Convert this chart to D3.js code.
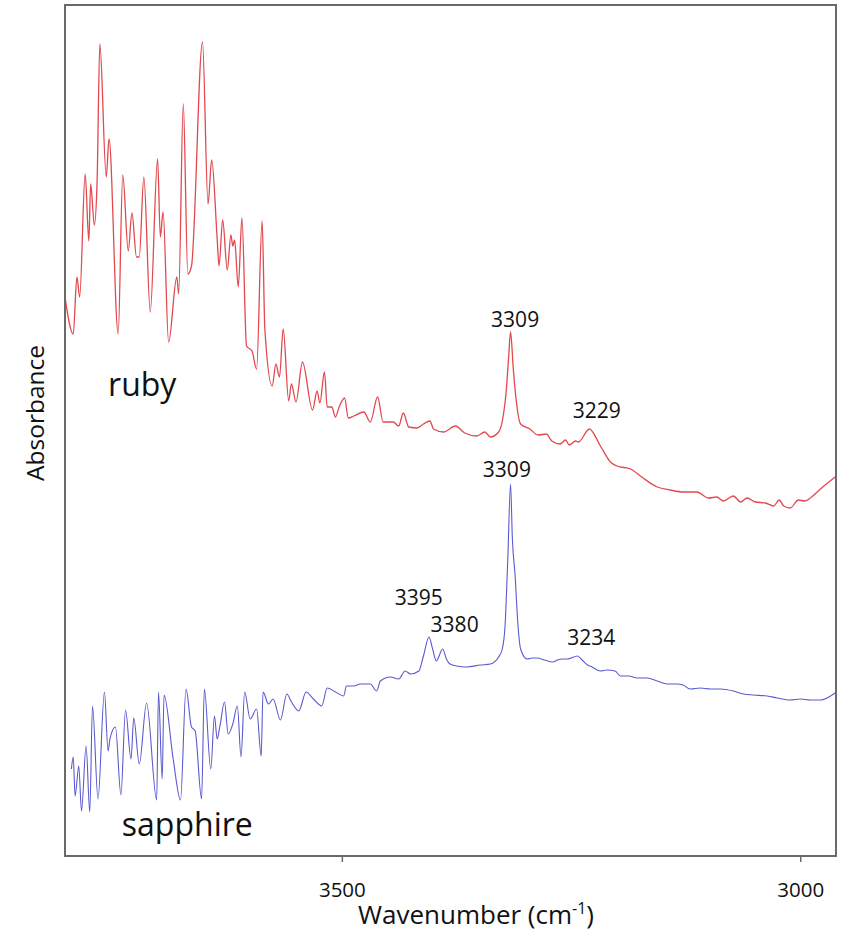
<!DOCTYPE html>
<html>
<head>
<meta charset="utf-8">
<script src="https://cdn.jsdelivr.net/npm/d3@7"></script>
<style>
  html, body { margin: 0; padding: 0; background: #fff; }
  svg { display: block; }
  text { font-family: "Open Sans", "Noto Sans", sans-serif; fill: #111; }
</style>
</head>
<body>
<svg id="chart" width="841" height="937"></svg>
<script>
// ---- Data (wavenumber in cm^-1, absorbance in arbitrary units) ----
const rubyWavenumber = [3802,3793,3789,3786,3780,3776,3774,3770,3767,3764,3757,3754,3744,3739,3733,3729,3724,3721,3716,3709,3701,3698,3695,3689,3680,3678,3673,3668,3664,3652,3646,3642,3636,3634,3630,3625,3621,3619,3617,3613,3609,3604,3598,3593,3587,3584,3576,3572,3568,3564,3558,3555,3550,3543,3532,3527,3524,3519,3516,3511,3507,3503,3497,3493,3487,3476,3469,3461,3455,3444,3438,3433,3427,3418,3411,3404,3400,3389,3376,3366,3353,3344,3338,3329,3324,3321,3318,3316,3313,3310,3305,3295,3286,3277,3271,3262,3256,3252,3245,3242,3230,3218,3207,3200,3185,3173,3156,3142,3127,3113,3100,3091,3084,3073,3065,3058,3049,3038,3029,3023,3018,3011,3002,2995,2989,2978,2962];
const rubyAbsorbance = [0.559,0.522,0.579,0.559,0.682,0.615,0.672,0.631,0.674,0.812,0.679,0.717,0.522,0.681,0.605,0.643,0.599,0.599,0.679,0.544,0.697,0.619,0.644,0.514,0.579,0.562,0.752,0.582,0.590,0.814,0.652,0.696,0.617,0.590,0.636,0.586,0.621,0.610,0.616,0.569,0.638,0.510,0.505,0.487,0.635,0.527,0.470,0.492,0.479,0.527,0.455,0.472,0.454,0.494,0.446,0.465,0.453,0.484,0.449,0.449,0.439,0.449,0.458,0.438,0.440,0.444,0.434,0.459,0.434,0.434,0.430,0.443,0.429,0.428,0.432,0.435,0.427,0.424,0.430,0.423,0.420,0.424,0.419,0.424,0.440,0.462,0.500,0.524,0.487,0.457,0.432,0.427,0.421,0.422,0.415,0.412,0.416,0.411,0.415,0.414,0.427,0.410,0.394,0.390,0.387,0.379,0.369,0.366,0.364,0.364,0.358,0.359,0.355,0.360,0.354,0.358,0.354,0.353,0.350,0.356,0.350,0.348,0.356,0.355,0.358,0.367,0.379];

const sapphireWavenumber = [3795,3793,3791,3787,3784,3779,3775,3772,3766,3759,3755,3753,3747,3741,3736,3730,3727,3721,3713,3702,3700,3696,3694,3684,3676,3670,3664,3660,3653,3650,3643,3639,3636,3633,3628,3624,3619,3614,3610,3606,3600,3593,3588,3586,3580,3575,3567,3560,3555,3547,3539,3531,3522,3516,3507,3498,3495,3487,3480,3469,3462,3458,3447,3438,3431,3425,3416,3411,3405,3401,3397,3390,3386,3382,3375,3364,3349,3338,3329,3325,3322,3319,3316,3314,3311,3308,3305,3298,3292,3287,3279,3270,3265,3259,3254,3243,3238,3232,3227,3218,3211,3202,3196,3187,3178,3167,3156,3145,3134,3128,3120,3109,3098,3087,3073,3062,3051,3036,3025,3011,3000,2989,2978,2962];
const sapphireAbsorbance = [0.087,0.099,0.060,0.090,0.045,0.110,0.044,0.150,0.057,0.164,0.105,0.117,0.129,0.061,0.146,0.097,0.138,0.092,0.153,0.056,0.164,0.077,0.161,0.097,0.056,0.167,0.129,0.125,0.057,0.167,0.087,0.140,0.117,0.130,0.154,0.122,0.132,0.150,0.099,0.164,0.137,0.147,0.100,0.164,0.152,0.157,0.136,0.162,0.154,0.145,0.164,0.157,0.150,0.168,0.164,0.160,0.170,0.170,0.172,0.172,0.165,0.175,0.179,0.177,0.185,0.182,0.185,0.200,0.219,0.207,0.195,0.207,0.197,0.192,0.190,0.189,0.191,0.192,0.199,0.207,0.230,0.297,0.372,0.317,0.280,0.232,0.207,0.197,0.198,0.198,0.196,0.194,0.196,0.197,0.197,0.200,0.196,0.191,0.189,0.185,0.186,0.185,0.180,0.180,0.178,0.178,0.175,0.172,0.172,0.171,0.167,0.168,0.167,0.167,0.165,0.162,0.161,0.160,0.158,0.156,0.157,0.156,0.156,0.163];

const xTickValues = [3500, 3000];
const xTickLabels = ["3500", "3000"];

// peak annotations: text, anchor wavenumber, anchor absorbance (label baseline centre)
const peakLabelText = ["3309", "3229", "3309", "3395", "3380", "3234"];
const peakLabelWavenumber = [3311, 3222, 3320, 3416, 3377, 3228];
const peakLabelAbsorbance = [0.529, 0.438, 0.379, 0.251, 0.224, 0.211];

// sample names: text, left wavenumber, baseline absorbance
const sampleNames = ["ruby", "sapphire"];
const sampleNameWavenumber = [3755, 3740];
const sampleNameAbsorbance = [0.460, 0.020];

// ---- Layout ----
const W = 841, H = 937;
const margin = { top: 5, right: 5, bottom: 81, left: 65 };
const innerW = W - margin.left - margin.right;
const innerH = H - margin.top - margin.bottom;

const svg = d3.select("#chart");
const g = svg.append("g").attr("transform", `translate(${margin.left},${margin.top})`);

const x = d3.scaleLinear().domain([3802, 2961]).range([0, innerW]);
const y = d3.scaleLinear().domain([0, 0.851]).range([innerH, 0]);

const line = d3.line()
  .curve(d3.curveMonotoneX)
  .x(d => x(d[0]))
  .y(d => y(d[1]));

const ruby = rubyWavenumber.map((w, i) => [w, rubyAbsorbance[i]]).sort((a, b) => a[0] - b[0]);
const sapphire = sapphireWavenumber.map((w, i) => [w, sapphireAbsorbance[i]]).sort((a, b) => a[0] - b[0]);

g.append("path")
  .datum(ruby)
  .attr("fill", "none")
  .attr("stroke", "#e2484e")
  .attr("stroke-width", 1.3)
  .attr("stroke-linejoin", "round")
  .attr("d", line);

g.append("path")
  .datum(sapphire)
  .attr("fill", "none")
  .attr("stroke", "#5a5acf")
  .attr("stroke-width", 1.1)
  .attr("stroke-linejoin", "round")
  .attr("d", line);

// frame
g.append("rect")
  .attr("x", 0).attr("y", 0)
  .attr("width", innerW).attr("height", innerH)
  .attr("fill", "none")
  .attr("stroke", "#6a6a6a")
  .attr("stroke-width", 2);

// x axis
const xAxis = d3.axisBottom(x)
  .tickValues(xTickValues)
  .tickFormat((d, i) => xTickLabels[i])
  .tickSize(6)
  .tickPadding(20);

const ax = g.append("g")
  .attr("transform", `translate(0,${innerH})`)
  .call(xAxis);
ax.select(".domain").remove();
ax.selectAll(".tick line").attr("stroke", "#6a6a6a").attr("stroke-width", 1.5);
ax.selectAll(".tick text")
  .attr("font-family", "'Open Sans', sans-serif")
  .attr("font-size", 20.5)
  .attr("fill", "#111");

// axis titles
const xt = svg.append("text")
  .attr("x", 476)
  .attr("y", 924)
  .attr("text-anchor", "middle")
  .attr("font-size", 26);
xt.append("tspan").text("Wavenumber (cm");
xt.append("tspan").attr("font-size", 16).attr("dy", -10).text("-1");
xt.append("tspan").attr("dy", 10).text(")");

svg.append("text")
  .attr("transform", "translate(44,413) rotate(-90)")
  .attr("text-anchor", "middle")
  .attr("font-size", 24.5)
  .text("Absorbance");

// peak labels
g.selectAll(".peak")
  .data(peakLabelText)
  .enter().append("text")
  .attr("class", "peak")
  .attr("x", (d, i) => x(peakLabelWavenumber[i]))
  .attr("y", (d, i) => y(peakLabelAbsorbance[i]))
  .attr("text-anchor", "middle")
  .attr("font-size", 21)
  .text(d => d);

// sample names
g.selectAll(".sample")
  .data(sampleNames)
  .enter().append("text")
  .attr("class", "sample")
  .attr("x", (d, i) => x(sampleNameWavenumber[i]))
  .attr("y", (d, i) => y(sampleNameAbsorbance[i]))
  .attr("font-size", 32)
  .text(d => d);
</script>
</body>
</html>
